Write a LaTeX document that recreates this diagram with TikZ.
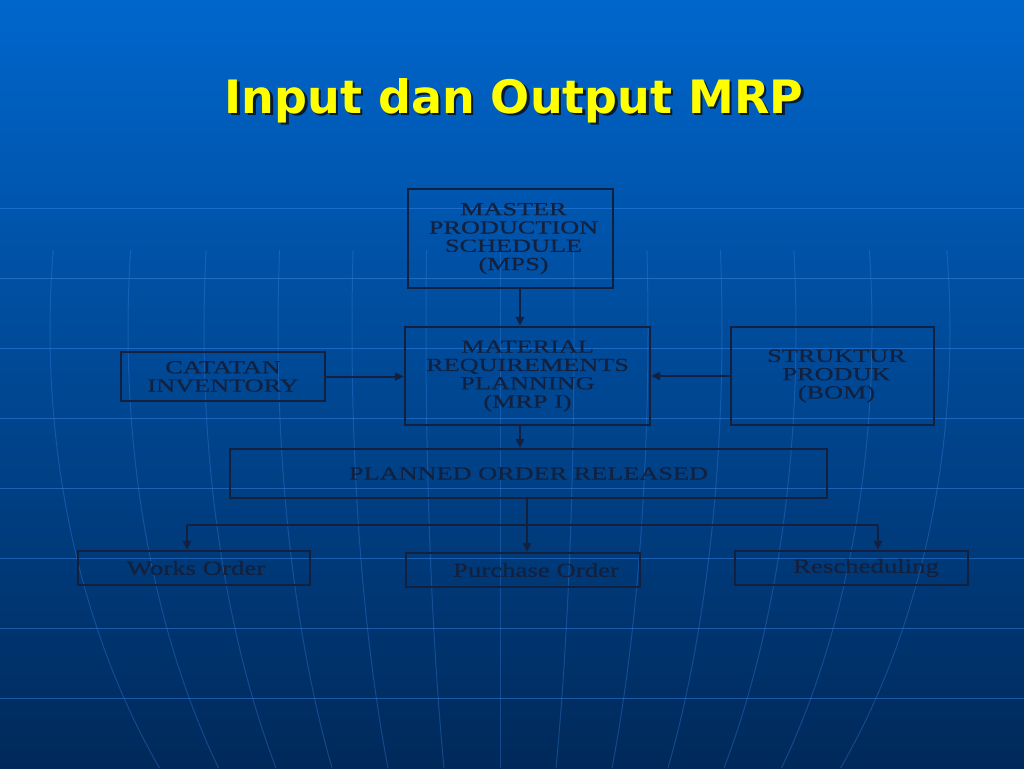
\documentclass[tikz,border=0pt]{standalone}
\usepackage{fontspec}
\setmainfont{Liberation Serif}
\newfontfamily\boxfont[FakeStretch=1.42,FakeBold=0.4]{Liberation Serif}
\newfontfamily\lowfont[FakeStretch=1.34,FakeBold=0.4]{Liberation Serif}
\newfontfamily\titlefont{DejaVu Sans}
\usetikzlibrary{arrows.meta,calc}
\definecolor{bgtop}{HTML}{0066CC}
\definecolor{bgbot}{HTML}{00295A}
\definecolor{gridc}{HTML}{3F8CF0}
\definecolor{ink}{HTML}{13203E}
\definecolor{titley}{HTML}{FFFF00}
\definecolor{shadowc}{HTML}{0A1A30}
\tikzset{
  box/.style={draw=ink, line width=2.2pt, inner sep=0pt, align=center, text=ink,
    font=\boxfont\fontsize{18.5}{18.3}\selectfont},
  lowbox/.style={box, font=\lowfont\fontsize{20}{22}\selectfont},
  conn/.style={draw=ink, line width=2pt},
  arr/.style={conn, -{Triangle[length=9pt,width=8pt]}},
  gridline/.style={draw=gridc, line width=1pt, opacity=0.45},
  meridian/.style={draw=gridc, line width=1pt, opacity=0.3},
}
\begin{document}
\begin{tikzpicture}[x=1pt,y=-1pt]
\useasboundingbox (0,0) rectangle (1024,768);
\shade[top color=bgtop, bottom color=bgbot] (0,0) rectangle (1024,768);
% background globe grid
\foreach \yy in {208,278,348,418,488,558,628,698}{
  \draw[gridline] (0,\yy) -- (1024,\yy);
}
\foreach \a in {74,148,222,296,372,450}{
  \draw[meridian] plot[domain=250:768, samples=40, variable=\t] ({500-\a*sqrt(1-((\t-330)/670)^2)},\t);
  \draw[meridian] plot[domain=250:768, samples=40, variable=\t] ({500+\a*sqrt(1-((\t-330)/670)^2)},\t);
}
\draw[meridian] (500,250) -- (500,768);
% title with drop shadow
\node[text=titley, font=\titlefont\bfseries\fontsize{46}{50}\selectfont] (title) at (514,102)
  {\rlap{\kern2.5pt\raisebox{-2.5pt}{\textcolor{shadowc}{Input dan Output MRP}}}Input dan Output MRP};
% boxes
\node[box, minimum width=205pt, minimum height=99pt] (mps) at (510.5,238.5) {\hspace{6pt}MASTER\\\hspace{6pt}PRODUCTION\\\hspace{6pt}SCHEDULE\\\hspace{6pt}(MPS)};
\node[box, minimum width=245pt, minimum height=98pt] (mrp) at (527.5,376) {MATERIAL\\REQUIREMENTS\\PLANNING\\(MRP I)};
\node[box, minimum width=204pt, minimum height=49pt] (cat) at (223,376.5) {CATATAN\\INVENTORY};
\node[box, minimum width=203pt, minimum height=98pt] (bom) at (832.5,376) {\hspace{8pt}STRUKTUR\\\hspace{8pt}PRODUK\\\hspace{8pt}(BOM)};
\node[box, minimum width=597pt, minimum height=49pt] (por) at (528.5,473.5) {PLANNED ORDER RELEASED};
\node[lowbox, minimum width=232pt, minimum height=34pt] (wo) at (194,568) {\hspace{4pt}Works Order};
\node[lowbox, minimum width=234pt, minimum height=34pt] (po) at (523,570) {\hspace{26pt}Purchase Order};
\node[lowbox, minimum width=233pt, minimum height=34pt] (rs) at (851.5,568) {\hspace{29pt}Rescheduling};
% connectors
\draw[arr] ([xshift=9.5pt]mps.south) -- ([xshift=9.5pt]mps.south |- mrp.north);
\draw[arr] ([xshift=-7.5pt]mrp.south) -- ([xshift=-7.5pt]mrp.south |- por.north);
\draw[arr] (cat.east) -- (cat.east -| mrp.west);
\draw[arr] (bom.west) -- (bom.west -| mrp.east);
\draw[arr] ([xshift=-1.5pt]por.south) -- ([xshift=-1.5pt]por.south |- po.north);
\coordinate (bl) at (187,525);
\coordinate (br) at (878,525);
\draw[conn] (bl) -- (br);
\draw[arr] (bl) -- (bl |- wo.north);
\draw[arr] (br) -- (br |- rs.north);
\end{tikzpicture}
\end{document}
